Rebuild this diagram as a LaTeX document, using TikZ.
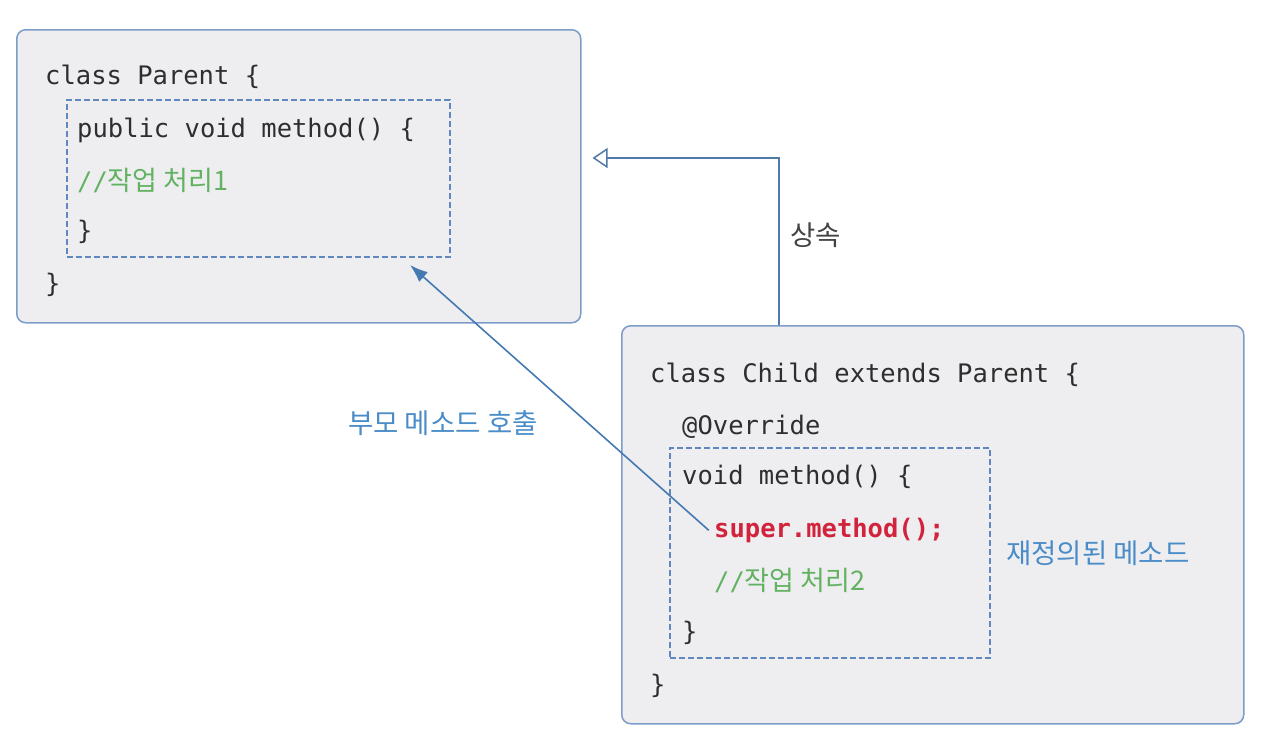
\documentclass[tikz,border=0pt]{standalone}
\usepackage{fontspec}
\setmonofont{DejaVu Sans Mono}
\newfontfamily\kofont{Noto Sans CJK KR}
\usetikzlibrary{arrows.meta}
\definecolor{boxblue}{HTML}{7C9CC9}
\definecolor{boxfill}{HTML}{EEEEF1}
\definecolor{dashblue}{HTML}{5F88C0}
\definecolor{codegray}{HTML}{2E2E2E}
\definecolor{cmtgreen}{HTML}{62B262}
\definecolor{supred}{HTML}{D2233C}
\definecolor{lblblue}{HTML}{4A8CC8}
\definecolor{arrowblue}{HTML}{4479B2}
\begin{document}
\begin{tikzpicture}[x=1pt, y=-1pt,
    codebox/.style={draw=boxblue, fill=boxfill, line width=1.5pt, rounded corners=9pt, anchor=north west, inner sep=0pt},
    methbox/.style={draw=dashblue, line width=1.8pt, dash pattern=on 6pt off 3pt, anchor=north west, inner sep=0pt},
    code/.style={anchor=base west, inner sep=0pt, font=\fontsize{25.5}{30}\selectfont\ttfamily, text=codegray},
    note/.style={anchor=west, inner sep=0pt, font=\fontsize{27.5}{32}\selectfont\kofont}]
    \useasboundingbox (0,0) rectangle (1270,742);
    \node[codebox, minimum width=564pt, minimum height=293pt] (parent) at (16,29) {};
    \node[codebox, minimum width=622pt, minimum height=398pt] (child) at (621,325) {};
    \node[methbox, minimum width=383pt, minimum height=157pt] (pmeth) at (66,99) {};
    \node[methbox, minimum width=320pt, minimum height=210pt] (cmeth) at (669,447) {};
    \node[code] (pclass) at (45,84) {class Parent \{};
    \node[code] (pdecl) at (77,137) {public void method() \{};
    \node[code, text=cmtgreen] (pcmt) at (77,190) {//{\fontsize{27}{30}\selectfont\kofont 작업 처리1}};
    \node[code] (pend) at (77,239) {\}};
    \node[code] (pclose) at (45,292) {\}};
    \node[code] (cclass) at (650,382) {class Child extends Parent \{};
    \node[code] (cover) at (682,434) {@Override};
    \node[code] (cdecl) at (682,484) {void method() \{};
    \node[code, text=supred, font=\fontsize{25.5}{30}\selectfont\ttfamily\bfseries] (csuper) at (714,537) {super.method();};
    \node[code, text=cmtgreen] (ccmt) at (714,590) {//{\fontsize{27}{30}\selectfont\kofont 작업 처리2}};
    \node[code] (cend) at (682,640) {\}};
    \node[code] (cclose) at (650,693) {\}};
    \coordinate (bend) at (779,158);
    \coordinate (calltip) at (410,265);
    \draw[arrowblue!80!gray, line width=1.5pt, -{Triangle[open, length=15pt, width=20pt, fill=white]}, shorten >=11pt]
        (bend |- child.north) -- (bend) -- (bend -| parent.east);
    \draw[arrowblue, line width=1.6pt, -{Latex[length=18pt, width=13pt]}, shorten <=7pt]
        ([yshift=-5pt]csuper.west) -- (calltip);
    \node[note, text=codegray!90] (inherit) at (790,235) {상속};
    \node[note, text=lblblue] (callnote) at (348,423) {부모 메소드 호출};
    \node[note, text=lblblue] (overnote) at (1006,553) {재정의된 메소드};
\end{tikzpicture}
\end{document}
